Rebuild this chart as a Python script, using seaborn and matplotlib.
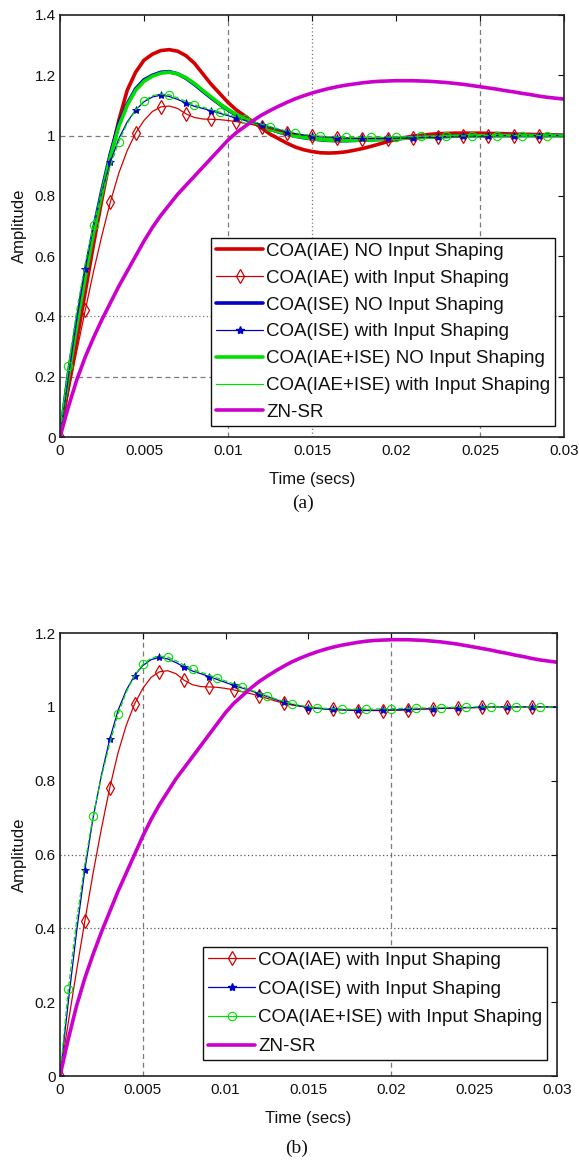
import numpy as np
import seaborn as sns
import matplotlib.pyplot as plt
from matplotlib.lines import Line2D

# time samples (s)
t = np.linspace(0, 0.03, 61)

# COA(IAE) NO Input Shaping
iae_no = [0, 0.17, 0.32, 0.48, 0.64, 0.79, 0.93, 1.05, 1.15, 1.21,
          1.25, 1.27, 1.282, 1.285, 1.28, 1.265, 1.24, 1.205, 1.17, 1.14,
          1.11, 1.085, 1.065, 1.045, 1.025, 1.005, 0.99, 0.975, 0.962, 0.953,
          0.947, 0.943, 0.942, 0.943, 0.946, 0.951, 0.957, 0.964, 0.972, 0.98,
          0.987, 0.993, 0.998, 1.001, 1.004, 1.006, 1.007, 1.008, 1.008, 1.008,
          1.008, 1.007, 1.007, 1.006, 1.005, 1.004, 1.004, 1.003, 1.002, 1.002,
          1.001]
# COA(IAE) with Input Shaping
iae_is = [0, 0.145, 0.285, 0.42, 0.55, 0.67, 0.78, 0.875, 0.95, 1.008,
          1.05, 1.08, 1.095, 1.098, 1.09, 1.072, 1.06, 1.055, 1.054, 1.053,
          1.05, 1.046, 1.041, 1.036, 1.03, 1.023, 1.016, 1.01, 1.005, 1.002,
          0.999, 0.997, 0.995, 0.993, 0.992, 0.991, 0.99, 0.99, 0.99, 0.99,
          0.991, 0.991, 0.992, 0.993, 0.994, 0.995, 0.996, 0.996, 0.997, 0.998,
          0.998, 0.999, 1.0, 1.0, 1.0, 1.0, 1.0, 1.0, 1.0, 1.0,
          1.0]
# COA(ISE) NO Input Shaping
ise_no = [0, 0.21, 0.38, 0.545, 0.69, 0.82, 0.94, 1.04, 1.105, 1.155,
          1.185, 1.2, 1.21, 1.212, 1.205, 1.19, 1.17, 1.147, 1.125, 1.104,
          1.085, 1.068, 1.055, 1.042, 1.031, 1.021, 1.012, 1.004, 0.998, 0.993,
          0.989, 0.986, 0.984, 0.983, 0.983, 0.984, 0.985, 0.986, 0.987, 0.989,
          0.99, 0.991, 0.993, 0.994, 0.995, 0.996, 0.997, 0.998, 0.998, 0.999,
          0.999, 1.0, 1.0, 1.0, 1.0, 1.0, 1.0, 1.0, 1.0, 1.0,
          1.0]
# COA(ISE) with Input Shaping
ise_is = [0, 0.2, 0.39, 0.558, 0.7, 0.815, 0.912, 0.99, 1.045, 1.085,
          1.112, 1.128, 1.134, 1.13, 1.12, 1.108, 1.097, 1.09, 1.082, 1.074,
          1.066, 1.058, 1.051, 1.044, 1.036, 1.028, 1.02, 1.013, 1.007, 1.002,
          0.998, 0.996, 0.994, 0.993, 0.992, 0.991, 0.991, 0.991, 0.991, 0.991,
          0.992, 0.992, 0.993, 0.994, 0.995, 0.995, 0.996, 0.997, 0.997, 0.998,
          0.998, 0.999, 1.0, 1.0, 1.0, 1.0, 1.0, 1.0, 1.0, 1.0,
          1.0]
# COA(IAE+ISE) NO Input Shaping
both_no = [0, 0.2, 0.37, 0.53, 0.68, 0.81, 0.93, 1.03, 1.1, 1.15,
           1.18, 1.197, 1.207, 1.21, 1.205, 1.192, 1.173, 1.15, 1.128, 1.106,
           1.087, 1.07, 1.056, 1.043, 1.032, 1.022, 1.013, 1.005, 0.999, 0.994,
           0.99, 0.987, 0.985, 0.984, 0.984, 0.984, 0.985, 0.986, 0.987, 0.989,
           0.99, 0.991, 0.993, 0.994, 0.995, 0.996, 0.997, 0.998, 0.998, 0.999,
           0.999, 1.0, 1.0, 1.0, 1.0, 1.0, 1.0, 1.0, 1.0, 1.0,
           1.0]
# COA(IAE+ISE) with Input Shaping
both_is = [0, 0.235, 0.42, 0.575, 0.705, 0.81, 0.9, 0.98, 1.04, 1.085,
           1.115, 1.132, 1.138, 1.135, 1.125, 1.113, 1.102, 1.094, 1.086, 1.078,
           1.07, 1.062, 1.054, 1.046, 1.038, 1.03, 1.022, 1.015, 1.009, 1.004,
           1.0, 0.998, 0.996, 0.995, 0.994, 0.994, 0.994, 0.994, 0.994, 0.995,
           0.995, 0.996, 0.996, 0.997, 0.997, 0.998, 0.998, 0.999, 0.999, 0.999,
           1.0, 1.0, 1.0, 1.0, 1.0, 1.0, 1.0, 1.0, 1.0, 1.0,
           1.0]
# ZN-SR
zn_sr = [0, 0.1, 0.19, 0.265, 0.33, 0.39, 0.445, 0.5, 0.55, 0.6,
         0.65, 0.695, 0.735, 0.77, 0.805, 0.835, 0.865, 0.895, 0.925, 0.955,
         0.985, 1.01, 1.03, 1.05, 1.068, 1.083, 1.097, 1.11, 1.122, 1.132,
         1.141, 1.149, 1.156, 1.162, 1.167, 1.171, 1.175, 1.178, 1.18, 1.181,
         1.182, 1.182, 1.182, 1.181, 1.18, 1.178, 1.176, 1.173, 1.17, 1.166,
         1.162, 1.158, 1.154, 1.149, 1.145, 1.14, 1.136, 1.131, 1.127, 1.124,
         1.121]

labels_a = ["COA(IAE) NO Input Shaping", "COA(IAE) with Input Shaping",
            "COA(ISE) NO Input Shaping", "COA(ISE) with Input Shaping",
            "COA(IAE+ISE) NO Input Shaping", "COA(IAE+ISE) with Input Shaping",
            "ZN-SR"]
labels_b = ["COA(IAE) with Input Shaping", "COA(ISE) with Input Shaping",
            "COA(IAE+ISE) with Input Shaping", "ZN-SR"]
xticks = [0, 0.005, 0.01, 0.015, 0.02, 0.025, 0.03]
xticklabels = ["0", "0.005", "0.01", "0.015", "0.02", "0.025", "0.03"]

RED, BLUE, GREEN, MAG = "#d40000", "#0000c8", "#00e000", "#cc00cc"
THICK, THIN = 2.6, 0.9

sns.set_style("white")
plt.rcParams["font.family"] = ["Liberation Sans", "DejaVu Sans"]
plt.rcParams["text.color"] = "#111111"
plt.rcParams["axes.labelcolor"] = "#111111"

fig = plt.figure(figsize=(5.79, 11.62), dpi=100)
ax1 = fig.add_axes([0.1036, 0.6239, 0.8705, 0.3632])
ax2 = fig.add_axes([0.1036, 0.0740, 0.8584, 0.3812])

marker_red = dict(marker="d", markersize=7, markerfacecolor="none",
                  markeredgecolor=RED, markeredgewidth=0.9, markevery=slice(0, 60, 3))
marker_blue = dict(marker="*", markersize=6, markerfacecolor=BLUE,
                   markeredgecolor=BLUE, markeredgewidth=0.6, markevery=slice(0, 60, 3))
marker_green = dict(marker="o", markersize=6, markerfacecolor="none",
                    markeredgecolor=GREEN, markeredgewidth=0.8, markevery=slice(1, 61, 3))

def draw_is_curves(ax):
    sns.lineplot(x=t, y=iae_is, ax=ax, color=RED, linewidth=THIN, **marker_red)
    sns.lineplot(x=t, y=ise_is, ax=ax, color=BLUE, linewidth=THIN, **marker_blue)
    sns.lineplot(x=t, y=both_is, ax=ax, color=GREEN, linewidth=THIN,
                 linestyle=(0, (4, 2)), **marker_green)

# (a)
sns.lineplot(x=t, y=iae_no, ax=ax1, color=RED, linewidth=THICK)
sns.lineplot(x=t, y=ise_no, ax=ax1, color=BLUE, linewidth=THICK)
sns.lineplot(x=t, y=both_no, ax=ax1, color=GREEN, linewidth=THICK)
draw_is_curves(ax1)
sns.lineplot(x=t, y=zn_sr, ax=ax1, color=MAG, linewidth=THICK)

# (b)
draw_is_curves(ax2)
sns.lineplot(x=t, y=zn_sr, ax=ax2, color=MAG, linewidth=THICK)

# the grid lines that survive in the scanned figure
for x, ls in [(0.01, (0, (4, 3))), (0.015, (0, (1, 2))), (0.025, (0, (4, 3)))]:
    ax1.axvline(x, color="#7a7a7a", lw=0.9, ls=ls, zorder=0.5)
for y, ls in [(1.0, (0, (4, 3))), (0.4, (0, (1, 2))), (0.2, (0, (4, 3)))]:
    ax1.axhline(y, color="#7a7a7a", lw=0.9, ls=ls, zorder=0.5)
for x in [0.005, 0.02]:
    ax2.axvline(x, color="#7a7a7a", lw=0.9, ls=(0, (4, 3)), zorder=0.5)
for y in [0.6, 0.4]:
    ax2.axhline(y, color="#5a5a5a", lw=0.9, ls=(0, (1, 2)), zorder=0.5)

ax1.set_ylim(0, 1.4)
ax1.set_yticks(np.arange(0, 1.41, 0.2))
ax1.set_yticklabels(["0", "0.2", "0.4", "0.6", "0.8", "1", "1.2", "1.4"])
ax2.set_ylim(0, 1.2)
ax2.set_yticks(np.arange(0, 1.21, 0.2))
ax2.set_yticklabels(["0", "0.2", "0.4", "0.6", "0.8", "1", "1.2"])

for ax in (ax1, ax2):
    ax.set_xlim(0, 0.03)
    ax.set_xticks(xticks)
    ax.set_xticklabels(xticklabels)
    ax.tick_params(direction="in", length=4, width=0.8, top=True, right=True,
                   labelsize=11, colors="#111111", pad=5)
    ax.tick_params(axis="y", pad=3)
    for sp in ax.spines.values():
        sp.set_visible(True)
        sp.set_color("#222222")
        sp.set_linewidth(1.2)
    ax.set_xlabel("Time (secs)", fontsize=12, va="center")
    ax.set_ylabel("Amplitude", fontsize=12, va="center")

ax1.xaxis.set_label_coords(0.5, -0.0995)
ax1.yaxis.set_label_coords(-0.08, 0.5)
ax2.xaxis.set_label_coords(0.5, -0.0948)
ax2.yaxis.set_label_coords(-0.081, 0.5)

leg_kw = dict(loc="upper left", frameon=True, fancybox=False, edgecolor="#111111",
              framealpha=1, fontsize=13.5, handlelength=2.55, handletextpad=0.16,
              borderpad=0.25, borderaxespad=0)

h_red_is = Line2D([], [], color=RED, lw=THIN, marker="d", ms=7, mfc="none", mec=RED, mew=0.9)
h_blue_is = Line2D([], [], color=BLUE, lw=THIN, marker="*", ms=6, mfc=BLUE, mec=BLUE)
handles_a = [Line2D([], [], color=RED, lw=THICK), h_red_is,
             Line2D([], [], color=BLUE, lw=THICK), h_blue_is,
             Line2D([], [], color=GREEN, lw=THICK),
             Line2D([], [], color=GREEN, lw=THIN),
             Line2D([], [], color=MAG, lw=THICK)]
lg1 = ax1.legend(handles_a, labels_a, bbox_to_anchor=(0.2996, 0.4716),
                 labelspacing=0.52, **leg_kw)
lg1.get_frame().set_linewidth(1.0)

handles_b = [h_red_is, h_blue_is,
             Line2D([], [], color=GREEN, lw=THIN, marker="o", ms=6, mfc="none", mec=GREEN, mew=0.8),
             Line2D([], [], color=MAG, lw=THICK)]
lg2 = ax2.legend(handles_b, labels_b, bbox_to_anchor=(0.2877, 0.2912),
                 labelspacing=0.62, **leg_kw)
lg2.get_frame().set_linewidth(1.0)

fig.text(0.5233, 1 - 503 / 1162, "(a)", ha="center", va="center",
         fontsize=14, family="Liberation Serif")
fig.text(0.512, 1 - 1148 / 1162, "(b)", ha="center", va="center",
         fontsize=14, family="Liberation Serif")

fig.savefig("out.png", dpi=100)
